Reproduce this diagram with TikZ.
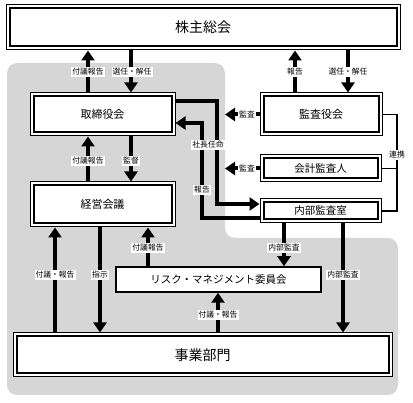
\documentclass[tikz,border=0pt]{standalone}
\usepackage{fontspec}
\setmainfont{Noto Sans CJK JP}
\usetikzlibrary{arrows.meta}
\definecolor{bg}{RGB}{214,214,214}
\begin{document}
\begin{tikzpicture}[x=1pt,y=-1pt,
  box/.style={draw, line width=1pt, fill=white, inner sep=0pt},
  lbl/.style={fill=white, inner sep=1pt, font=\fontsize{7.8}{7.8}\selectfont},
  arr/.style={line width=4pt, line join=miter, -{Triangle[width=13pt,length=10pt]}},
  thinline/.style={line width=1.3pt}
]
\useasboundingbox (0,0) rectangle (413,403);
\fill[bg, rounded corners=10pt] (7,63) -- (225,63) -- (225,238) -- (398,238) -- (398,395) -- (7,395) -- cycle;

% boxes
\node[box, minimum width=394pt, minimum height=45pt, font=\fontsize{14}{14}\selectfont] (gm) at (203,27.5) {株主総会};
\node[box, minimum width=145pt, minimum height=43pt, font=\fontsize{11}{11}\selectfont] (tor) at (102.5,114.5) {取締役会};
\node[box, minimum width=122pt, minimum height=43pt, font=\fontsize{11}{11}\selectfont] (kansa) at (321,114.5) {監査役会};
\node[box, minimum width=145pt, minimum height=45pt, font=\fontsize{11}{11}\selectfont] (keiei) at (102.5,204.5) {経営会議};
\node[box, minimum width=121pt, minimum height=27pt, font=\fontsize{10.5}{10.5}\selectfont] (kaikei) at (320.5,168.5) {会計監査人};
\node[box, minimum width=121pt, minimum height=24pt, font=\fontsize{10.5}{10.5}\selectfont] (naibu) at (320.5,211) {内部監査室};
\node[box, line width=1.5pt, minimum width=205pt, minimum height=25pt, font=\fontsize{10.5}{10.5}\selectfont] (risk) at (218.5,279.5) {リスク・マネジメント委員会};
\node[box, minimum width=379pt, minimum height=44pt, font=\fontsize{14}{14}\selectfont] (jigyo) at (202.5,355) {事業部門};
\foreach \n in {gm,tor,kansa,keiei,kaikei,naibu,jigyo}
  \draw[line width=2pt] ([shift={(4pt,-4pt)}]\n.north west) rectangle ([shift={(-4pt,4pt)}]\n.south east);

% top arrows
\draw[arr] (88,0 |- tor.north) -- (88,0 |- gm.south);
\draw[arr] (131,0 |- gm.south) -- (131,0 |- tor.north);
\draw[arr] (295,0 |- kansa.north) -- (295,0 |- gm.south);
\draw[arr] (348,0 |- gm.south) -- (348,0 |- kansa.north);
\node[lbl] (l1) at (88,72) {付議報告};
\node[lbl] (l2) at (132,72) {選任・解任};
\node[lbl] (l3) at (295,72) {報告};
\node[lbl] (l4) at (348,72) {選任・解任};

% tor - keiei
\draw[arr] (88,0 |- keiei.north) -- (88,0 |- tor.south);
\draw[arr] (131,0 |- tor.south) -- (131,0 |- keiei.north);
\node[lbl] (l5) at (88,161) {付議報告};
\node[lbl] (l6) at (131,161) {監督};

% audit arrows
\coordinate (k1) at (225,114.5);
\coordinate (k2) at (225,168.5);
\draw[arr] (kansa.west) -- (k1);
\draw[arr] (kaikei.west) -- (k2);
\node[lbl] (l7) at (247,114.5) {監査};
\node[lbl] (l8) at (247,168.5) {監査};

% president appointment / report
\draw[arr] (tor.east |- 0,101) -- (217,101) -- (217,204) -- (naibu.west |- 0,204);
\draw[arr] (naibu.west |- 0,218) -- (202,218) -- (202,123) -- (tor.east |- 0,123);
\node[lbl] (l9) at (208,145) {社長任命};
\node[lbl] (l10) at (202,190) {報告};

% cooperation
\draw[thinline] (kansa.east) -- (397,0 |- kansa.east) -- (397,0 |- naibu.east) -- (naibu.east);
\draw[thinline] (kaikei.east) -- (397,0 |- kaikei.east);
\node[lbl] (l11) at (397,155) {連携};

% lower arrows
\draw[arr] (284,0 |- naibu.south) -- (284,0 |- risk.north);
\draw[arr] (343,0 |- naibu.south) -- (343,0 |- jigyo.north);
\draw[arr] (148,0 |- risk.north) -- (148,0 |- keiei.south);
\draw[arr] (55,0 |- jigyo.north) -- (55,0 |- keiei.south);
\draw[arr] (100,0 |- keiei.south) -- (100,0 |- jigyo.north);
\draw[arr] (218,0 |- jigyo.north) -- (218,0 |- risk.south);
\node[lbl] (l12) at (284,248) {内部監査};
\node[lbl] (l13) at (343,275) {内部監査};
\node[lbl] (l14) at (148,248) {付議報告};
\node[lbl] (l15) at (55,275) {付議・報告};
\node[lbl] (l16) at (100,275) {指示};
\node[lbl] (l17) at (218,315) {付議・報告};
\end{tikzpicture}
\end{document}
